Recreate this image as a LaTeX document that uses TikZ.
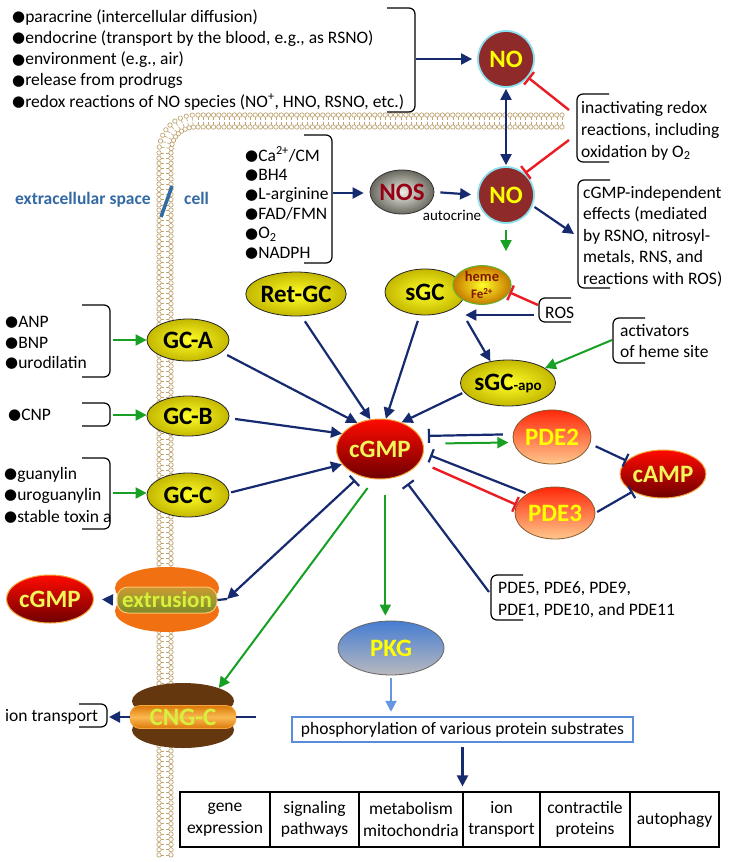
\documentclass[tikz,border=0pt]{standalone}
\usepackage{fontspec}
\setmainfont{Carlito}
\newfontfamily\dejavu{DejaVu Sans}
\usetikzlibrary{shapes.geometric,arrows.meta,decorations.markings}

\definecolor{nv}{RGB}{22,42,112}
\definecolor{grn}{RGB}{24,160,36}
\definecolor{rd}{RGB}{236,28,36}
\definecolor{noRed}{RGB}{142,42,42}
\definecolor{noRim}{RGB}{140,225,240}
\definecolor{memb}{RGB}{192,165,115}
\definecolor{steel}{RGB}{52,106,164}
\definecolor{yl}{RGB}{255,255,0}
\definecolor{ylpale}{RGB}{240,245,90}
\definecolor{ylIn}{RGB}{255,255,40}
\definecolor{ylOut}{RGB}{196,184,0}
\definecolor{redTop}{RGB}{255,10,0}
\definecolor{redBot}{RGB}{110,0,0}
\definecolor{orRim}{RGB}{245,165,60}
\definecolor{pdeTop}{RGB}{255,40,10}
\definecolor{pdeBot}{RGB}{255,200,140}
\definecolor{pkgTop}{RGB}{70,125,210}
\definecolor{pkgBot}{RGB}{185,185,190}
\definecolor{boxBlue}{RGB}{90,140,220}
\definecolor{lblue}{RGB}{100,150,225}
\definecolor{nosIn}{RGB}{238,238,228}
\definecolor{nosOut}{RGB}{105,105,95}
\definecolor{nosTxt}{RGB}{150,0,20}
\definecolor{hemeOut}{RGB}{200,120,0}
\definecolor{hemeRim}{RGB}{110,175,40}
\definecolor{hemeTxt}{RGB}{130,20,0}
\definecolor{orgA}{RGB}{240,112,18}
\definecolor{extTop}{RGB}{205,150,50}
\definecolor{extMid}{RGB}{160,155,45}
\definecolor{extBot}{RGB}{125,135,40}
\definecolor{extRim}{RGB}{250,200,110}
\definecolor{ylg}{RGB}{215,240,60}
\definecolor{brn}{RGB}{100,55,15}
\definecolor{cngTop}{RGB}{220,120,10}
\definecolor{cngMid}{RGB}{250,185,80}

\newcommand\fsN{\fontsize{17.5}{21.5}\selectfont}
\newcommand\fsB{\fontsize{25}{28}\selectfont\bfseries}
\newcommand\bu{\raisebox{0.6pt}{\dejavu\fontsize{15}{15}\selectfont ●}}
\newcommand\BrR[3]{\draw[brk] ({#1-28},#2) -- (#1,#2) -- (#1,#3) -- ({#1-28},#3);}
\newcommand\BrL[3]{\draw[brk] ({#1+32},#2) -- (#1,#2) -- (#1,#3) -- ({#1+32},#3);}

\begin{document}
\begin{tikzpicture}[x=1pt,y=-1pt,
  na/.style={draw=nv, line width=2.2pt, -{Triangle[length=11pt,width=11pt]}},
  nline/.style={draw=nv, line width=2.2pt},
  ga/.style={draw=grn, line width=2pt, -{Triangle[length=11pt,width=11pt]}},
  ninh/.style={draw=nv, line width=2.2pt, -{Bar[width=14pt]}},
  rinh/.style={draw=rd, line width=2.4pt, -{Bar[width=16pt]}},
  brk/.style={draw=black, line width=1.2pt, rounded corners=6pt},
  txt/.style={font=\fsN, inner sep=0pt, anchor=base west},
  lbl/.style={font=\fsB, inner sep=0pt},
  yel/.style={ellipse, draw=black!85, line width=0.8pt, inner color=ylIn, outer color=ylOut, lbl},
  noc/.style={circle, fill=noRed, draw=noRim, line width=1.8pt, minimum size=56pt, inner sep=0pt, text=yl, lbl},
  redE/.style={ellipse, draw=orRim, line width=1pt, top color=redTop, bottom color=redBot, text=ylpale, lbl},
  pdeS/.style={ellipse, draw=brown!70!black, line width=0.8pt, top color=pdeTop, bottom color=pdeBot, text=yl, lbl},
  cell/.style={draw=black, line width=1.2pt, minimum height=55pt, align=center, font=\fsN, inner sep=0pt}
]
\useasboundingbox (0,0) rectangle (730,862);
\fill[white] (0,0) rectangle (730,862);

% membrane
\path[decoration={markings, mark=between positions 0 and 1 step 5.2pt with {
  \draw[memb, line width=0.7pt, fill=white] (0,6pt) circle (2.2pt) (0,-6pt) circle (2.2pt);
  \draw[memb, line width=0.6pt] (0,3.6pt) -- (0,0.6pt) (0,-3.6pt) -- (0,-0.6pt);
}}, decorate] (562,121) -- (196,121) .. controls (178,121) and (165,134) .. (165,152) -- (165,858);

% extracellular / cell
\node[font=\fsN\bfseries, text=steel, inner sep=0pt, anchor=base west] (exs) at (15,204) {extracellular space};
\node[font=\fsN\bfseries, text=steel, inner sep=0pt, anchor=base west] (cellt) at (184,204) {cell};
\draw[steel, line width=3.5pt] (172,186) -- (161,217);

% top list
\node[txt] (l1) at (12,22) {\bu paracrine (intercellular diffusion)};
\node[txt] (l2) at (12,43.3) {\bu endocrine (transport by the blood, e.g., as RSNO)};
\node[txt] (l3) at (12,64.6) {\bu environment (e.g., air)};
\node[txt] (l4) at (12,85.9) {\bu release from prodrugs};
\node[txt] (l5) at (12,107.2) {\bu redox reactions of NO species (NO\textsuperscript{+}, HNO, RSNO, etc.)};
\BrR{415}{8}{112}
\coordinate (topbr) at (416,59);

% NOS inputs
\node[txt] (n1) at (245,161) {\bu Ca\textsuperscript{2+}/CM};
\node[txt] (n2) at (245,180.4) {\bu BH4};
\node[txt] (n3) at (245,199.8) {\bu L-arginine};
\node[txt] (n4) at (245,219.2) {\bu FAD/FMN};
\node[txt] (n5) at (245,238.6) {\bu O\textsubscript{2}};
\node[txt] (n6) at (245,258) {\bu NADPH};
\BrR{332}{135}{263}
\coordinate (nosbr) at (333,193);

% inactivating
\BrL{577}{94}{162}
\node[txt] (i1) at (581,113) {inactivating redox};
\node[txt] (i2) at (581,135) {reactions, including};
\node[txt] (i3) at (581,157) {oxidation by O\textsubscript{2}};
\coordinate (inac1) at (569,110);
\coordinate (inac2) at (569,140);

% cGMP-independent
\BrL{578}{180}{288}
\node[txt] (c1) at (583,198) {cGMP-independent};
\node[txt] (c2) at (583,219.5) {effects (mediated};
\node[txt] (c3) at (583,241) {by RSNO, nitrosyl-};
\node[txt] (c4) at (583,262.5) {metals, RNS, and};
\node[txt] (c5) at (583,284) {reactions with ROS)};
\coordinate (cgi) at (574,234);

% ROS
\BrL{539}{298}{322}
\node[txt] (ros) at (545,318) {ROS};
\coordinate (rosR) at (538,305);
\coordinate (rosB) at (534,315);

% activators
\BrL{613}{318}{363}
\node[txt] (a1) at (620,336) {activators};
\node[txt] (a2) at (620,357) {of heme site};
\coordinate (actbr) at (612,340);

% GC ligands
\node[txt] (g1) at (5,327) {\bu ANP};
\node[txt] (g2) at (5,348) {\bu BNP};
\node[txt] (g3) at (5,368) {\bu urodilatin};
\BrR{110}{305}{377}
\coordinate (anpbr) at (113,340);
\node[txt] (g4) at (8,420) {\bu CNP};
\BrR{110}{403}{426}
\coordinate (cnpbr) at (113,415);
\node[txt] (g5) at (4,479) {\bu guanylin};
\node[txt] (g6) at (4,500) {\bu uroguanylin};
\node[txt] (g7) at (4,522) {\bu stable toxin a};
\BrR{110}{458}{529}
\coordinate (guabr) at (113,493);

% PDE list
\BrL{491}{575}{620}
\node[txt] (p1) at (498,593) {PDE5, PDE6, PDE9,};
\node[txt] (p2) at (498,615) {PDE1, PDE10, and PDE11};
\coordinate (pdebr) at (489,592);

% ion transport
\BrR{107}{704}{727}
\node[txt] (ion) at (5,721) {ion transport};
\coordinate (ionbr) at (109,717);

% main nodes
\node[noc] (no1) at (506,59) {NO};
\node[noc] (no2) at (506,195) {NO};
\node[ellipse, minimum width=62pt, minimum height=44pt, inner sep=0pt, draw=black!80, line width=0.8pt,
      inner color=nosIn, outer color=nosOut, text=nosTxt, lbl] (nos) at (402,192) {NOS};
\node[font=\fontsize{15}{15}\selectfont, inner sep=0pt] (autoc) at (452,215) {autocrine};
\node[yel, minimum width=82pt, minimum height=44pt] (retgc) at (296,294) {Ret-GC};
\node[yel, minimum width=80pt, minimum height=46pt] (sgc) at (425,292) {sGC};
\node[ellipse, minimum width=58pt, minimum height=38pt, inner sep=0pt, draw=hemeRim, line width=1.2pt,
      inner color=ylIn, outer color=hemeOut, align=center, text=hemeTxt, font=\fontsize{14.5}{17}\selectfont\bfseries] (heme) at (482,285)
      {heme\\{\fontsize{13}{13}\selectfont Fe\textsuperscript{2+}}};
\node[yel, minimum width=80pt, minimum height=46pt] (apo) at (508,383) {sGC{\fontsize{15}{15}\selectfont -apo}};
\node[yel, minimum width=82pt, minimum height=42pt] (gca) at (188,340) {GC-A};
\node[yel, minimum width=82pt, minimum height=40pt] (gcb) at (188,416) {GC-B};
\node[yel, minimum width=82pt, minimum height=44pt] (gcc) at (188,495) {GC-C};
\node[redE, minimum width=76pt, minimum height=60pt] (cgmp) at (380,449) {cGMP};
\node[pdeS, minimum width=78pt, minimum height=54pt] (pde2) at (552,437) {PDE2};
\node[pdeS, minimum width=80pt, minimum height=52pt] (pde3) at (555,513) {PDE3};
\node[redE, minimum width=70pt, minimum height=48pt] (camp) at (663,474) {cAMP};
\node[ellipse, minimum width=106pt, minimum height=54pt, draw=black!60, line width=0.8pt,
      top color=pkgTop, bottom color=pkgBot, text=yl, lbl] (pkg) at (391,648) {PKG};
\node[draw=boxBlue, line width=2.5pt, minimum width=341pt, minimum height=25pt, inner sep=0pt, font=\fsN] (box) at (462.5,729.5)
      {phosphorylation of various protein substrates};

% table
\node[cell, minimum width=90pt] (t1) at (225,819.5) {gene\\expression};
\node[cell, minimum width=89pt] (t2) at (314.5,819.5) {signaling\\pathways};
\node[cell, minimum width=104pt] (t3) at (411,819.5) {metabolism\\mitochondria};
\node[cell, minimum width=77pt] (t4) at (501.5,819.5) {ion\\transport};
\node[cell, minimum width=90pt] (t5) at (585,819.5) {contractile\\proteins};
\node[cell, minimum width=89pt] (t6) at (674.5,819.5) {autophagy};

% extrusion
\node[ellipse, fill=orgA, minimum width=104pt, minimum height=42pt] (extT) at (167,588) {};
\node[ellipse, fill=orgA, minimum width=104pt, minimum height=42pt] (extB) at (167,611) {};
\node[rounded corners=11pt, draw=extRim, line width=1pt, top color=extTop, bottom color=extBot, middle color=extMid,
      minimum width=100pt, minimum height=26pt, inner sep=0pt, font=\fontsize{23}{23}\selectfont\bfseries, text=ylg] (extr) at (167,600) {extrusion};
\node[redE, minimum width=66pt, minimum height=48pt] (cgl) at (50,599) {cGMP};
\coordinate (exR) at (227,599);

% CNG-C
\node[ellipse, fill=brn, minimum width=102pt, minimum height=36pt] (cngT) at (183,701) {};
\node[ellipse, fill=brn, minimum width=102pt, minimum height=36pt] (cngB) at (183,730) {};
\node[rounded corners=10pt, draw=orRim, line width=0.8pt, top color=cngTop, bottom color=cngTop, middle color=cngMid,
      minimum width=106pt, minimum height=23pt, inner sep=0pt, font=\fontsize{25}{25}\selectfont\bfseries, text=ylg] (cng) at (183,717) {CNG-C};
\coordinate (cngR) at (256,717);

% connectors
\draw[na, shorten >=5pt] (topbr) -- (topbr -| no1.west);
\draw[na, shorten >=6pt] (nosbr) -- (nosbr -| nos.west);
\draw[na, shorten <=6pt, shorten >=6pt] (nos.east) -- (no2.west);
\draw[draw=nv, line width=2.2pt, {Triangle[length=11pt,width=11pt]}-{Triangle[length=11pt,width=11pt]}, shorten <=1pt, shorten >=1pt] (no1.south) -- (no2.north);
\draw[rinh] (inac1) -- (no1.-40);
\draw[rinh] (inac2) -- (no2.49);
\draw[na, shorten <=2pt] (no2.-22) -- (cgi);
\draw[ga, shorten <=6pt, shorten >=14pt] (no2.south) -- (no2.south |- heme.north);
\draw[rinh] (rosR) -- (heme.-15);
\draw[na] (rosB) -- (rosB -| sgc.east);
\coordinate (sgcout) at (467,321);
\draw[na] (sgcout) -- (apo.129);
\draw[ga] (actbr) -- (apo.22);
\draw[ga] (anpbr) -- (anpbr -| gca.west);
\draw[ga] (cnpbr) -- (cnpbr -| gcb.west);
\draw[ga] (guabr) -- (guabr -| gcc.west);
\draw[na, shorten <=6pt] (gca.-20) -- (cgmp.131);
\draw[na, shorten <=6pt] (gcb.-3) -- (cgmp.158);
\draw[na, shorten <=2pt] (gcc.3) -- (cgmp.-158);
\draw[na, shorten <=6pt] (retgc.-76) -- (cgmp.108);
\draw[na, shorten <=6pt] (sgc.-103) -- (cgmp.79);
\draw[na, shorten <=2pt] (apo.-168) -- (cgmp.51);
\draw[ninh, shorten <=10pt, shorten >=8pt] (pde2.176) -- (cgmp.18);
\draw[ga, shorten <=22pt, shorten >=5pt] (cgmp.7) -- (pde2.188);
\draw[ninh, shorten <=2pt, shorten >=7pt] (pde3.145) -- (cgmp.-5);
\draw[rinh, shorten <=14pt] (cgmp.-18) -- (pde3.168);
\draw[ninh, shorten <=6pt] (pde2.-10) -- (camp.160);
\draw[ninh, shorten <=2pt] (pde3.0) -- (camp.-150);
\draw[ninh, shorten >=10pt] (pdebr) -- (cgmp.-51);
\draw[nline] (extr.east) -- (exR);
\draw[draw=nv, line width=2.2pt, {Bar[width=14pt]}-{Triangle[length=11pt,width=11pt]}, shorten <=6pt] (cgmp.-127) -- (exR);
\draw[na, shorten <=4pt, shorten >=8pt] (extT.west |- extr.west) -- (cgl.east);
\draw[ga, shorten <=11pt] (cgmp.-101) -- (cngT.20);
\draw[ga, shorten <=16pt, shorten >=5pt] (cgmp.-80) -- (cgmp.-80 |- pkg.north);
\draw[draw=lblue, line width=2.2pt, -{Triangle[length=11pt,width=11pt]}, shorten <=3pt, shorten >=4pt] (pkg.south) -- (pkg.south |- box.north);
\draw[na, shorten <=4pt, shorten >=5pt] (box.south) -- (box.south |- t3.north);
\draw[na] (cng.west) -- (ionbr);
\draw[nline] (cng.east) -- (cngR);
\end{tikzpicture}
\end{document}
